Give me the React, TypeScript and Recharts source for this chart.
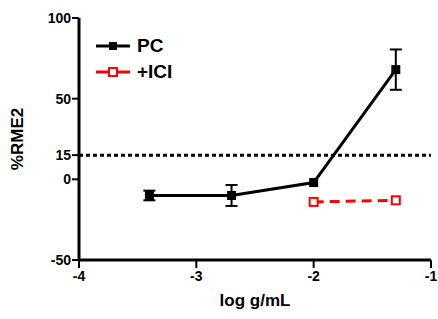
import { ErrorBar, Line, LineChart, ReferenceLine, XAxis, YAxis } from 'recharts';

const PC_X = [-3.4, -2.7, -2, -1.3];
const PC_Y = [-10, -10, -2, 68];
const PC_ERR = [3, 6.5, 0, 12.5];

const ICI_X = [-2, -1.3];
const ICI_Y = [-14, -13];

const X_TICKS = [-4, -3, -2, -1];
const Y_TICKS = [-50, 0, 15, 50, 100];
const THRESHOLD = 15;

const pcData = PC_X.map((x, i) => ({ x, y: PC_Y[i], err: PC_ERR[i] }));
const iciData = ICI_X.map((x, i) => ({ x, y: ICI_Y[i] }));

const FONT = '"Liberation Sans", Arial, sans-serif';
const tickStyle = { fill: '#000', fontSize: 14, fontWeight: 700, fontFamily: FONT };

const SolidSquare = (props: any) => {
  const { cx, cy } = props;
  if (cx == null || cy == null) return null;
  return <rect x={cx - 4.5} y={cy - 4.5} width={9} height={9} fill="#000" />;
};

const OpenSquare = (props: any) => {
  const { cx, cy } = props;
  if (cx == null || cy == null) return null;
  return <rect x={cx - 4} y={cy - 4} width={8} height={8} fill="#fff" stroke="#ff0000" strokeWidth={2} />;
};

function LegendBox() {
  return (
    <div style={{ position: 'absolute', left: 96, top: 34, fontFamily: FONT, fontWeight: 700, fontSize: 19 }}>
      <div style={{ display: 'flex', alignItems: 'center', height: 24 }}>
        <svg width={36} height={12}>
          <line x1={0} y1={6} x2={34} y2={6} stroke="#000" strokeWidth={3} />
          <rect x={13} y={2} width={8} height={8} fill="#000" />
        </svg>
        <span style={{ marginLeft: 5 }}>PC</span>
      </div>
      <div style={{ display: 'flex', alignItems: 'center', height: 28 }}>
        <svg width={36} height={12}>
          <line x1={0} y1={6} x2={34} y2={6} stroke="#ff0000" strokeWidth={3} />
          <rect x={13} y={2} width={8} height={8} fill="#fff" stroke="#ff0000" strokeWidth={2} />
        </svg>
        <span style={{ marginLeft: 5 }}>+ICI</span>
      </div>
    </div>
  );
}

export default function App() {
  return (
    <div style={{ position: 'absolute', left: 0, top: 0, width: 438, height: 319, background: '#fff', fontFamily: FONT }}>
      <LineChart width={438} height={319} margin={{ top: 18, right: 7, bottom: 29, left: 29 }}>
        <XAxis
          type="number"
          dataKey="x"
          domain={[-4, -1]}
          ticks={X_TICKS}
          allowDataOverflow
          stroke="#000"
          axisLine={{ strokeWidth: 3 }}
          tickLine={{ strokeWidth: 2 }}
          tickSize={8}
          tickMargin={3}
          tick={tickStyle}
          height={30}
          label={{ value: 'log g/mL', position: 'insideBottom', offset: -16, fill: '#000', fontSize: 17, fontWeight: 700 }}
        />
        <YAxis
          type="number"
          domain={[-50, 100]}
          ticks={Y_TICKS}
          allowDataOverflow
          stroke="#000"
          axisLine={{ strokeWidth: 3 }}
          tickLine={{ strokeWidth: 2 }}
          tickSize={7}
          tickMargin={1}
          tick={tickStyle}
          width={50}
          label={{ value: '%RME2', angle: -90, position: 'insideLeft', offset: -12, fill: '#000', fontSize: 17, fontWeight: 700, style: { textAnchor: 'middle' } }}
        />
        <ReferenceLine y={THRESHOLD} stroke="#000" strokeWidth={3} strokeDasharray="4 3" />
        <Line
          data={pcData}
          dataKey="y"
          stroke="#000"
          strokeWidth={3}
          dot={<SolidSquare />}
          isAnimationActive={false}
        >
          <ErrorBar dataKey="err" direction="y" width={6} stroke="#000" strokeWidth={2} />
        </Line>
        <Line
          data={iciData}
          dataKey="y"
          stroke="#ff0000"
          strokeWidth={3}
          strokeDasharray="10 6"
          dot={<OpenSquare />}
          isAnimationActive={false}
        />
      </LineChart>
      <LegendBox />
    </div>
  );
}
